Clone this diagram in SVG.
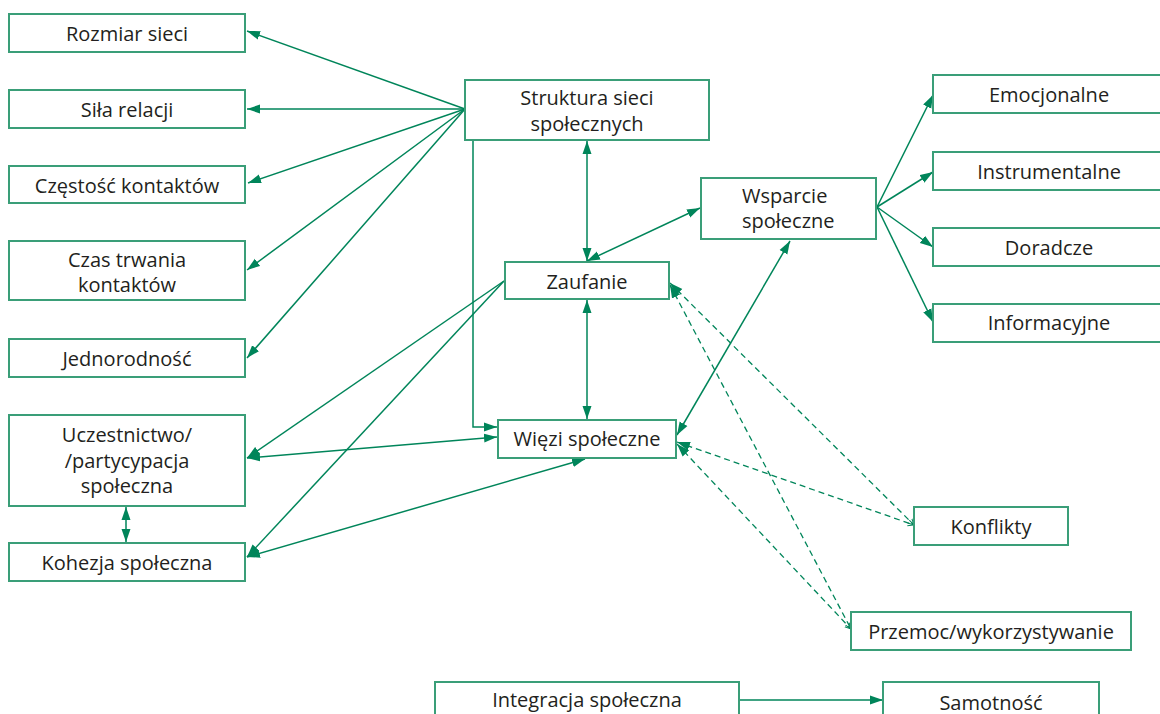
<svg xmlns="http://www.w3.org/2000/svg" width="1160" height="714" viewBox="0 0 1160 714">
<style>
rect{fill:#fff;stroke:#3a9e78;stroke-width:2}
text{font-family:"Open Sans","Noto Sans",sans-serif;font-size:20px;fill:#231f20;text-anchor:middle;dominant-baseline:central}
.c line,.c path{stroke:#00855a;stroke-width:1.5;fill:none}
.c .d{stroke-dasharray:6,4;stroke-width:1.3}
</style>
<defs>
<marker id="a" markerUnits="userSpaceOnUse" markerWidth="14" markerHeight="10" refX="13" refY="5" orient="auto-start-reverse"><path d="M0,0.5 L13,5 L0,9.5 z" fill="#00855a"/></marker>
<marker id="o" markerUnits="userSpaceOnUse" markerWidth="8" markerHeight="8" refX="6" refY="4" orient="auto"><path d="M0,1 L6,4 L0,7" fill="none" stroke="#00855a" stroke-width="1"/></marker>
</defs>
<g class="c" id="connectors">
<line x1="465" y1="109" x2="247" y2="31" marker-end="url(#a)"/>
<line x1="465" y1="109" x2="247" y2="109" marker-end="url(#a)"/>
<line x1="465" y1="109" x2="248" y2="183" marker-end="url(#a)"/>
<line x1="465" y1="109" x2="247" y2="270" marker-end="url(#a)"/>
<line x1="465" y1="109" x2="247" y2="358" marker-end="url(#a)"/>
<path d="M473,140 V427 H497" marker-end="url(#a)"/>
<line x1="587" y1="141" x2="587" y2="261" marker-start="url(#a)" marker-end="url(#a)"/>
<line x1="587" y1="261" x2="700" y2="208" marker-start="url(#a)" marker-end="url(#a)"/>
<line x1="587" y1="300" x2="587" y2="419" marker-start="url(#a)" marker-end="url(#a)"/>
<line x1="504" y1="281" x2="247" y2="458" marker-end="url(#a)"/>
<line x1="504" y1="281" x2="247" y2="557" marker-end="url(#a)"/>
<line x1="247" y1="458" x2="497" y2="437" marker-start="url(#a)" marker-end="url(#a)"/>
<line x1="585" y1="459" x2="247" y2="557" marker-start="url(#a)" marker-end="url(#a)"/>
<line x1="126" y1="507" x2="126" y2="542" marker-start="url(#a)" marker-end="url(#a)"/>
<line x1="790" y1="241" x2="677" y2="435" marker-start="url(#a)" marker-end="url(#a)"/>
<line x1="877" y1="207" x2="933" y2="95" marker-end="url(#a)"/>
<line x1="877" y1="207" x2="933" y2="172" marker-end="url(#a)"/>
<line x1="877" y1="207" x2="933" y2="247" marker-end="url(#a)"/>
<line x1="877" y1="207" x2="933" y2="322" marker-end="url(#a)"/>
<line class="d" x1="670" y1="283" x2="914" y2="525" marker-start="url(#a)" marker-end="url(#o)"/>
<line class="d" x1="670" y1="285" x2="851" y2="629" marker-start="url(#a)" marker-end="url(#o)"/>
<line class="d" x1="677" y1="442" x2="914" y2="525" marker-start="url(#a)" marker-end="url(#o)"/>
<line class="d" x1="677" y1="444" x2="851" y2="629" marker-start="url(#a)" marker-end="url(#o)"/>
<line x1="739" y1="700" x2="883" y2="700" marker-end="url(#a)"/>
</g>
<g id="rozmiar"><rect x="9" y="14" width="236" height="38"/><text x="127" y="33">Rozmiar sieci</text></g>
<g id="sila"><rect x="9" y="90" width="236" height="38"/><text x="127" y="109">Siła relacji</text></g>
<g id="czestosc"><rect x="9" y="166" width="236" height="37"/><text x="127" y="185">Częstość kontaktów</text></g>
<g id="czas"><rect x="9" y="241" width="236" height="59"/><text x="127" y="259">Czas trwania</text><text x="127" y="284">kontaktów</text></g>
<g id="jednorodnosc"><rect x="9" y="339" width="236" height="38"/><text x="127" y="358">Jednorodność</text></g>
<g id="uczestnictwo"><rect x="9" y="415" width="236" height="91"/><text x="127" y="434">Uczestnictwo/</text><text x="127" y="460">/partycypacja</text><text x="127" y="485">społeczna</text></g>
<g id="kohezja"><rect x="9" y="543" width="236" height="38"/><text x="127" y="562">Kohezja społeczna</text></g>
<g id="struktura"><rect x="465" y="80" width="244" height="60"/><text x="587" y="97">Struktura sieci</text><text x="587" y="123">społecznych</text></g>
<g id="zaufanie"><rect x="505" y="262" width="164" height="37"/><text x="587" y="281">Zaufanie</text></g>
<g id="wiezi"><rect x="498" y="420" width="178" height="38"/><text x="587" y="438">Więzi społeczne</text></g>
<g id="wsparcie"><rect x="701" y="178" width="175" height="61"/><text x="742" y="195" style="text-anchor:start">Wsparcie</text><text x="742" y="220" style="text-anchor:start">społeczne</text></g>
<g id="emocjonalne"><rect x="933" y="75" width="232" height="38"/><text x="1049" y="94">Emocjonalne</text></g>
<g id="instrumentalne"><rect x="933" y="152" width="232" height="38"/><text x="1049" y="171">Instrumentalne</text></g>
<g id="doradcze"><rect x="933" y="228" width="232" height="38"/><text x="1049" y="247">Doradcze</text></g>
<g id="informacyjne"><rect x="933" y="304" width="232" height="38"/><text x="1049" y="322">Informacyjne</text></g>
<g id="konflikty"><rect x="914" y="507" width="154" height="38"/><text x="991" y="526">Konflikty</text></g>
<g id="przemoc"><rect x="851" y="612" width="280" height="38"/><text x="991" y="631">Przemoc/wykorzystywanie</text></g>
<g id="integracja"><rect x="435" y="682" width="304" height="40"/><text x="587" y="699">Integracja społeczna</text></g>
<g id="samotnosc"><rect x="883" y="682" width="216" height="40"/><text x="991" y="702">Samotność</text></g>
</svg>
